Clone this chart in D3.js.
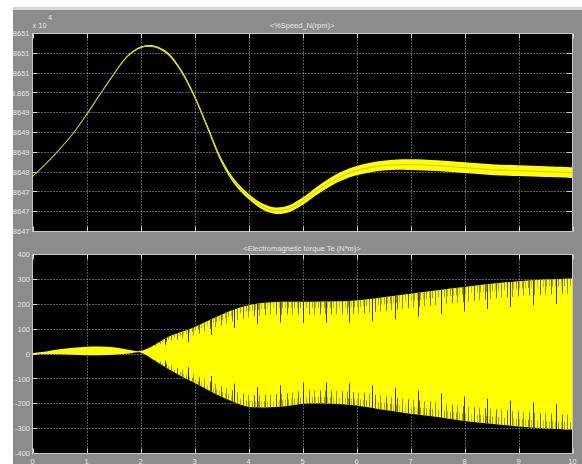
<!DOCTYPE html>
<html><head><meta charset="utf-8">
<script src="https://cdn.jsdelivr.net/npm/d3@7"></script>
<style>
body{margin:0;background:#fff}
svg{display:block}
text{font-family:Arial,"Liberation Sans",sans-serif;font-size:7.5px;fill:#e4e4e4}
</style>
</head><body>
<svg id="c" width="582" height="464"></svg>
<script>
// ---------- data ----------
const timeTicks=[0,1,2,3,4,5,6,7,8,9,10];

// Speed (rpm)
const speedTime=[0,0.25,0.5,0.75,1,1.25,1.5,1.75,2,2.25,2.5,2.75,3,3.25,3.5,3.75,4,4.25,4.5,4.75,5,5.25,5.5,5.75,6,6.25,6.5,6.75,7,7.5,8,8.5,9,9.5,10];
const speedCenter=[38648.11,38648.37,38648.66,38648.98,38649.36,38649.77,38650.17,38650.53,38650.72,38650.74,38650.60,38650.25,38649.73,38649.08,38648.43,38647.99,38647.71,38647.51,38647.42,38647.46,38647.61,38647.81,38647.99,38648.13,38648.23,38648.29,38648.33,38648.35,38648.35,38648.33,38648.29,38648.25,38648.23,38648.21,38648.19];
const speedRipple=[0,0,0,0,0,0.004,0.008,0.012,0.016,0.02,0.025,0.03,0.035,0.04,0.045,0.05,0.055,0.06,0.065,0.07,0.075,0.08,0.085,0.09,0.095,0.1,0.1,0.105,0.11,0.11,0.11,0.11,0.11,0.11,0.11];
const speedDomain=[38647,38651];
const speedTickLabels=["3.8647","3.8647","3.8647","3.8648","3.8649","3.8649","3.8649","3.865","3.8651","3.8651","3.8651"];

// Electromagnetic torque (N*m): envelope of the ripple
const torqueTime=[0,0.25,0.5,0.75,1,1.25,1.5,1.75,2,2.25,2.5,2.75,3,3.25,3.5,3.75,4,4.25,4.5,4.75,5,5.5,6,6.5,7,7.5,8,8.5,9,9.5,10];
const torqueUpper=[3,10,19,25,29,30,27,18,12,35,67,88,108,134,158,180,196,205,209,210,210,211,215,228,242,256,269,282,292,299,304];
const torqueLower=[0,-1,-1,-3,-5,-5,-3,1,6,-25,-58,-88,-116,-145,-172,-195,-212,-215,-213,-208,-200,-199,-207,-224,-240,-253,-269,-280,-291,-299,-304];
const torqueSpikeDepth=[0,0,0,0,0,0,0,0,0,5,30,45,55,62,70,75,80,82,84,85,85,85,88,92,95,97,98,99,100,100,100];
const torqueTicks=[400,300,200,100,0,-100,-200,-300,-400];

const titles=["<%Speed_N(rpm)>","<Electromagnetic torque Te (N*m)>"];

// ---------- layout ----------
const svg=d3.select("#c");
const W=582,H=464;
const L=32.5,R=572.5;
const top1=33.5,bot1=231.5,top2=254.5,bot2=453.5;
const x=d3.scaleLinear().domain([0,10]).range([L,R]);
const ySpeed=d3.scaleLinear().domain(speedDomain).range([bot1,top1]);
const yTorque=d3.scaleLinear().domain([-400,400]).range([bot2,top2]);
const smooth=d3.curveCatmullRom.alpha(0.5);

svg.append("rect").attr("width",W).attr("height",H).attr("fill","#fff");
svg.append("rect").attr("x",13).attr("y",7).attr("width",W-13).attr("height",3).attr("fill","#d6d6d6");
svg.append("rect").attr("x",13).attr("y",10).attr("width",W-13).attr("height",H-10).attr("fill","#8c8c8c");

const defs=svg.append("defs");
defs.append("clipPath").attr("id","labelClip").append("rect").attr("x",13).attr("y",0).attr("width",W).attr("height",H);

function pattern(id,w,lines){
  const p=defs.append("pattern").attr("id",id).attr("patternUnits","userSpaceOnUse").attr("width",w).attr("height",8);
  lines.forEach(l=>p.append("rect").attr("x",l[0]).attr("y",0).attr("width",1).attr("height",8).attr("fill",l[1]));
}
pattern("pA",6,[[0,"#8a8a00"],[3,"#b4b400"]]);
pattern("pB",11,[[1,"#4a4a00"],[6,"#7a7a00"]]);
pattern("pC",23,[[4,"#141400"]]);

function axesFrame(y0,y1,clipId){
  svg.append("rect").attr("x",L).attr("y",y0).attr("width",R-L).attr("height",y1-y0).attr("fill","#000");
  defs.append("clipPath").attr("id",clipId).append("rect").attr("x",L).attr("y",y0).attr("width",R-L).attr("height",y1-y0);
}
function gridAndTicks(y0,y1,yTickPos){
  const g=svg.append("g");
  timeTicks.forEach(t=>{
    const xx=Math.round(x(t))+0.5;
    if(t>0&&t<10) g.append("line").attr("x1",xx).attr("x2",xx).attr("y1",y0).attr("y2",y1)
      .attr("stroke","#b4b4b4").attr("stroke-dasharray","1,2");
    g.append("line").attr("x1",xx).attr("x2",xx).attr("y1",y0).attr("y2",y0+5).attr("stroke","#d0d0d0");
    g.append("line").attr("x1",xx).attr("x2",xx).attr("y1",y1).attr("y2",y1-5).attr("stroke","#d0d0d0");
  });
  yTickPos.forEach(p=>{
    const yy=Math.round(p-0.5)+0.5;
    if(yy>y0+1&&yy<y1-1) g.append("line").attr("x1",L).attr("x2",R).attr("y1",yy).attr("y2",yy)
      .attr("stroke","#b4b4b4").attr("stroke-dasharray","1,2");
    g.append("line").attr("x1",L).attr("x2",L+5).attr("y1",yy).attr("y2",yy).attr("stroke","#d0d0d0");
    g.append("line").attr("x1",R).attr("x2",R-6).attr("y1",yy).attr("y2",yy).attr("stroke","#d0d0d0");
  });
}

// ---------- top: speed ----------
axesFrame(top1,bot1,"clip1");
const speedTickVals=d3.range(speedTickLabels.length).map(i=>speedDomain[0]+i*(speedDomain[1]-speedDomain[0])/(speedTickLabels.length-1));
gridAndTicks(top1,bot1,speedTickVals.map(ySpeed));
const sd=speedTime.map((t,i)=>({t,c:speedCenter[i],r:speedRipple[i]}));
const g1=svg.append("g").attr("clip-path","url(#clip1)");
g1.append("path").datum(sd)
  .attr("d",d3.area().x(d=>x(d.t)).y0(d=>ySpeed(d.c-d.r)).y1(d=>ySpeed(d.c+d.r)).curve(smooth))
  .attr("fill","#ffff00");
g1.append("path").datum(sd)
  .attr("d",d3.line().x(d=>x(d.t)).y(d=>ySpeed(d.c)).curve(smooth))
  .attr("fill","none").attr("stroke","#d4d400").attr("stroke-width",1.1);

// ---------- bottom: torque ----------
axesFrame(top2,bot2,"clip2");
gridAndTicks(top2,bot2,torqueTicks.map(yTorque));
const td=torqueTime.map((t,i)=>({t,u:torqueUpper[i],l:torqueLower[i],d:torqueSpikeDepth[i]}));
const g2=svg.append("g").attr("clip-path","url(#clip2)");
g2.append("path").datum(td)
  .attr("d",d3.area().x(d=>x(d.t)).y0(d=>yTorque(d.l)).y1(d=>yTorque(d.u)).curve(smooth))
  .attr("fill","#ffff00");
[["pA",0.3],["pB",0.6],["pC",1.0]].forEach(([pid,f],k)=>{
  const cp=defs.append("clipPath").attr("id","sp"+k);
  cp.append("path").datum(td).attr("d",d3.area().x(d=>x(d.t)).y0(d=>yTorque(d.u)).y1(d=>yTorque(d.u-d.d*f)).curve(smooth));
  cp.append("path").datum(td).attr("d",d3.area().x(d=>x(d.t)).y0(d=>yTorque(d.l)).y1(d=>yTorque(d.l+d.d*f)).curve(smooth));
  g2.append("rect").attr("x",L).attr("y",top2).attr("width",R-L).attr("height",bot2-top2)
    .attr("fill",`url(#${pid})`).attr("clip-path",`url(#sp${k})`).attr("opacity",0.85);
});
// frame edges on top
[[top1,bot1],[top2,bot2]].forEach(([a,b])=>svg.append("rect").attr("x",L).attr("y",a).attr("width",R-L).attr("height",b-a).attr("fill","none").attr("stroke","#c8c8c8"));

// ---------- labels ----------
const lab=svg.append("g").attr("clip-path","url(#labelClip)");
speedTickVals.forEach((v,i)=>lab.append("text").attr("x",29.5).attr("y",ySpeed(v)).attr("dy","0.35em")
  .attr("text-anchor","end").text(speedTickLabels[i]));
torqueTicks.forEach(v=>lab.append("text").attr("x",30).attr("y",yTorque(v)).attr("dy","0.35em")
  .attr("text-anchor","end").text(v));
timeTicks.forEach(t=>lab.append("text").attr("x",x(t)).attr("y",463.5).attr("text-anchor","middle").text(t));
lab.append("text").attr("x",32.5).attr("y",27.5).text("x 10");
lab.append("text").attr("x",48).attr("y",19.5).text("4");
svg.append("text").attr("x",302).attr("y",27.5).attr("text-anchor","middle").attr("fill","#e8e8e8").text(titles[0]);
svg.append("text").attr("x",302).attr("y",250.5).attr("text-anchor","middle").attr("fill","#e8e8e8").text(titles[1]);
</script>
</body></html>
